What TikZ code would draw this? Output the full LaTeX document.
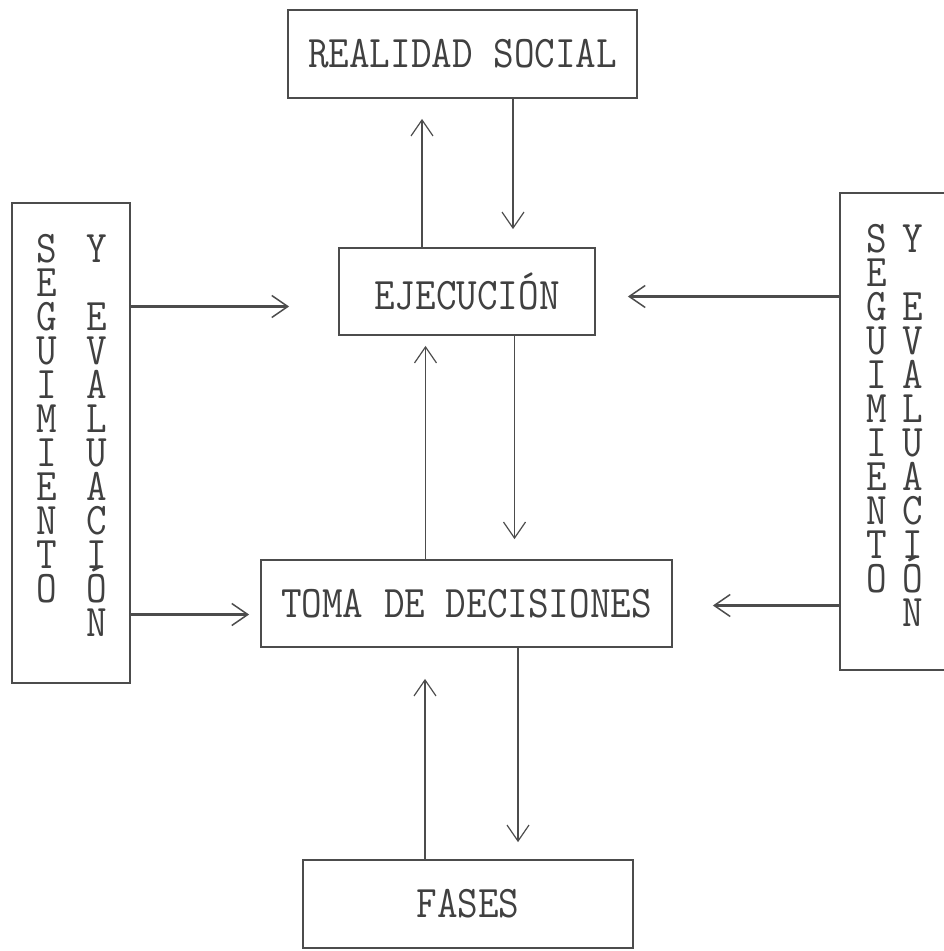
\documentclass[tikz,border=0pt]{standalone}
\usepackage{fontspec}
\usepackage{graphicx}
\usetikzlibrary{arrows.meta,calc}

\newcommand{\alto}[1]{\scalebox{1}[1.13]{#1}}

\begin{document}
\begin{tikzpicture}[x=1pt,y=-1pt]
    \tikzstyle{every node}=[font=\ttfamily\fontsize{40}{34}\selectfont, text=black!75]
    \tikzstyle{box}=[draw=black!70, line width=1.8pt, inner sep=0pt]
    \tikzstyle{letter}=[anchor=base, inner sep=0pt]
    \tikzstyle{arrow}=[draw=black!70, line width=1.2pt, -{Straight Barb[length=16pt,width=22pt]}]
    \tikzstyle{thick arrow}=[arrow, line width=3pt, -{Straight Barb[length=16pt,width=22pt,line width=1.5pt]}]
    \useasboundingbox (0,0) rectangle (944,951);
    \clip (0,0) rectangle (944,951);
      \node[box, minimum width=349, minimum height=88] (real) at (462.5,54) {\alto{REALIDAD SOCIAL}};
      \node[box, minimum width=256, minimum height=87] (ejec) at (467,291.5) {\alto{EJECUCIÓN}};
      \node[box, minimum width=411, minimum height=87] (toma) at (466.5,603.5) {\alto{TOMA DE DECISIONES}};
      \node[box, minimum width=330, minimum height=88] (fases) at (468,904) {\alto{FASES}};
      % seguimiento y evaluacion, both sides
      \node[box, minimum width=118, minimum height=480] (segL) at (71,443) {};
      \node[box, minimum width=300, minimum height=477] (segR) at (990,431.5) {};
      \foreach \side/\xa/\xb/\ytop in {L/47/97/262, R/877/913/252} {
        \foreach \c [count=\i] in {S,E,G,U,I,M,I,E,N,T,O}
          \node[letter] (seg\side\i) at (\xa,{\ytop+34*(\i-1)}) {\alto{\c}};
        \node[letter] (y\side) at (\xb,\ytop) {\alto{Y}};
        \foreach \c [count=\i from 3] in {E,V,A,L,U,A,C,I,Ó,N}
          \node[letter] (eva\side\i) at (\xb,{\ytop+34*(\i-1)}) {\alto{\c}};
      }
      % vertical arrows
      \draw[arrow, shorten >=20pt] ($(ejec.north)+(-45,0)$) -- ($(ejec.north |- real.south)+(-45,0)$);
      \draw[arrow, shorten >=18pt] ($(ejec.north |- real.south)+(46,0)$) -- ($(ejec.north)+(46,0)$);
      \draw[arrow, shorten >=10pt] ($(toma.north)+(-41,0)$) -- ($(toma.north |- ejec.south)+(-41,0)$);
      \draw[arrow, shorten >=20pt] ($(toma.north |- ejec.south)+(48,0)$) -- ($(toma.north)+(48,0)$);
      \draw[arrow, shorten >=31pt] ($(fases.north)+(-43,0)$) -- ($(fases.north |- toma.south)+(-43,0)$);
      \draw[arrow, shorten >=17pt] ($(fases.north |- toma.south)+(50,0)$) -- ($(fases.north)+(50,0)$);
      % horizontal arrows
      \draw[thick arrow, shorten >=49pt] ($(segL.east |- ejec.west)+(0,15)$) -- ($(ejec.west)+(0,15)$);
      \draw[thick arrow, shorten >=11pt] ($(segL.east |- toma.west)+(0,11)$) -- ($(toma.west)+(0,11)$);
      \draw[thick arrow, shorten >=32pt] ($(segR.west |- ejec.east)+(0,5)$) -- ($(ejec.east)+(0,5)$);
      \draw[thick arrow, shorten >=40pt] ($(segR.west |- toma.east)+(0,2)$) -- ($(toma.east)+(0,2)$);
\end{tikzpicture}
\end{document}
